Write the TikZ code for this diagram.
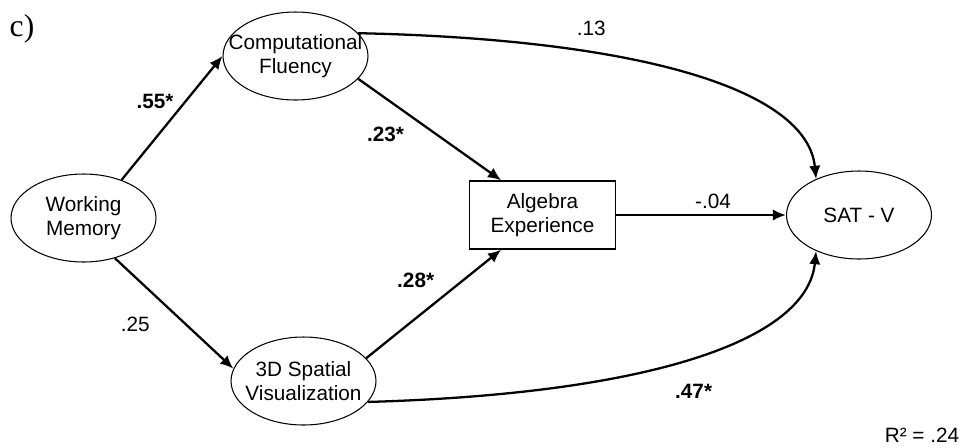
\documentclass[tikz,border=0pt]{standalone}
\usepackage{fontspec}
\setmainfont{Liberation Sans}
\newfontfamily\timesfont{Liberation Serif}
\usetikzlibrary{shapes.geometric, arrows.meta}
\tikzstyle{latent} = [ellipse, 
minimum width=2.9cm, 
minimum height=1.76cm,
inner xsep=-15pt,
inner ysep=0pt,
align=center, 
draw=black, 
line width=0.6pt,
font=\fontsize{11.8}{13.5}\selectfont]
\tikzstyle{observed} = [rectangle, 
minimum width=2.93cm, 
minimum height=1.36cm, 
align=center, 
draw=black, 
line width=0.8pt,
font=\fontsize{11.8}{13.5}\selectfont]
\tikzstyle{coef} = [inner sep=1pt, font=\fontsize{11.8}{13.5}\selectfont]
\tikzstyle{arrow} = [line width=1.3pt, -{Latex[length=7.5pt, width=6.5pt]}]

\begin{document}
\begin{tikzpicture}[x=0.02cm, y=-0.02cm]
	\useasboundingbox (0,0) rectangle (966,447);
	
	\node (tag) [font=\timesfont\fontsize{18}{20}\selectfont] at (22,29) {c)};
	
	\node (wm) [latent] at (83.5,218) {Working\\Memory};
	\node (cf) [latent] at (295.5,56) {Computational\\Fluency};
	\node (sv) [latent] at (303.5,381) {3D Spatial\\Visualization};
	\node (ae) [observed] at (542.5,215) {Algebra\\Experience};
	\node (sat) [latent] at (859,215) {SAT - V};
	
	\node (rsq) [coef] at (922,435) {R² = .24};
	
	\draw [arrow] (wm.45) -- node[coef, pos=0.63, left=5pt] {\textbf{.55*}} (cf.west);
	\draw [arrow] (wm.-52) -- node[coef, pos=0.6, left=19pt] {.25} (sv.170);
	\draw [arrow] (cf.-20) -- node[coef, pos=0.55, left=17pt] {\textbf{.23*}} (ae.140);
	\draw [arrow] (sv.20) -- node[coef, pos=0.72, left=15pt] {\textbf{.28*}} (ae.220);
	\draw [arrow] (ae.east) -- node[coef, pos=0.57, above=2pt] {-.04} (sat.west);
	% direct paths to SAT - V
	\draw [arrow] (cf.20) .. controls +(280,6) and +(-9,-90) .. node[coef, pos=0.32, above=8pt] {.13} (sat.140);
	\draw [arrow] (sv.-18) .. controls +(280,-8) and +(-9,90) .. node[coef, pos=0.5, below=14pt] {\textbf{.47*}} (sat.220);
	
\end{tikzpicture}
\end{document}
